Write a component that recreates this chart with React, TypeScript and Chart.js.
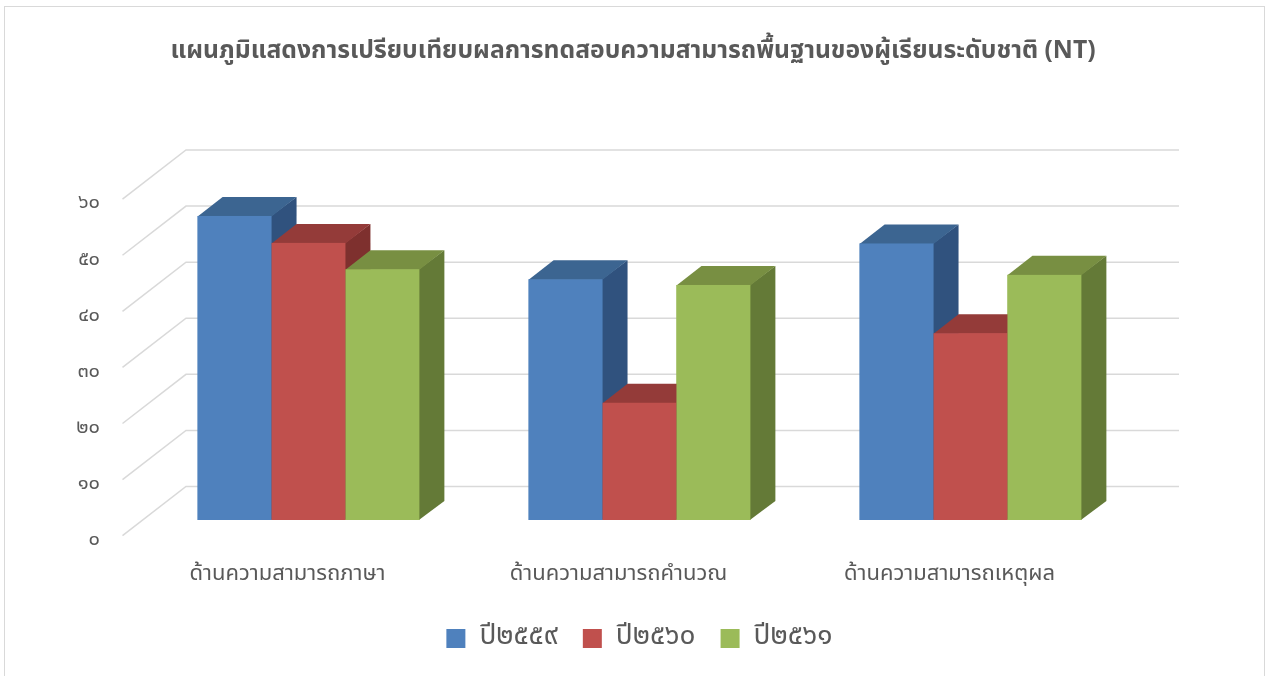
import React, { useEffect, useRef } from 'react';
import { Chart, registerables } from 'chart.js';
Chart.register(...registerables);

const titleText = 'แผนภูมิแสดงการเปรียบเทียบผลการทดสอบความสามารถพื้นฐานของผู้เรียนระดับชาติ (NT)';
const categories = ['ด้านความสามารถภาษา', 'ด้านความสามารถคำนวณ', 'ด้านความสามารถเหตุผล'];
const seriesNames = ['ปี๒๕๕๙', 'ปี๒๕๖๐', 'ปี๒๕๖๑'];
const values2559 = [54.2, 42.9, 49.3];
const values2560 = [49.4, 20.9, 33.3];
const values2561 = [44.7, 41.9, 43.7];
const yTickValues = [0, 10, 20, 30, 40, 50, 60];
const yTickLabels = ['๐', '๑๐', '๒๐', '๓๐', '๔๐', '๕๐', '๖๐'];

const FONT = "Tahoma, 'Noto Sans Thai', 'Leelawadee UI', sans-serif";
const TEXT = '#595959';
const frontColors = ['#4F81BD', '#C0504D', '#9BBB59'];
const topColors = ['#3C6591', '#943B39', '#788F42'];
const sideColors = ['#30527E', '#7E302E', '#647A37'];

const BAR_DX = 25, BAR_DY = 19;
const WALL_DX = 43, WALL_DY = 33.5;
const FRONT_DX = -20.5, FRONT_DY = 15.7;

const threeD = {
  id: 'threeD',
  beforeDraw(chart: any) {
    const { ctx } = chart;
    ctx.save();
    ctx.fillStyle = '#FFFFFF';
    ctx.fillRect(0, 0, chart.width, chart.height);
    ctx.strokeStyle = '#D9D9D9';
    ctx.lineWidth = 1;
    ctx.strokeRect(4.5, 6.5, 1260, 700);
    ctx.restore();
  },
  beforeDatasetsDraw(chart: any) {
    const { ctx, chartArea, scales } = chart;
    const y = scales.y;
    ctx.save();
    ctx.strokeStyle = '#D9D9D9';
    ctx.lineWidth = 1.5;
    for (const v of yTickValues) {
      const py = y.getPixelForValue(v);
      ctx.beginPath();
      ctx.moveTo(chartArea.left + FRONT_DX, py + FRONT_DY);
      ctx.lineTo(chartArea.left + WALL_DX, py - WALL_DY);
      ctx.lineTo(chartArea.right + WALL_DX, py - WALL_DY);
      ctx.stroke();
    }
    ctx.restore();
  },
  afterDatasetsDraw(chart: any) {
    const { ctx } = chart;
    const n = chart.data.labels.length;
    const metas = chart.data.datasets.map((_: any, i: number) => chart.getDatasetMeta(i));
    ctx.save();
    for (let c = 0; c < n; c++) {
      for (let d = 0; d < metas.length; d++) {
        const bar = metas[d].data[c];
        const { x, y, width, base } = bar.getProps(['x', 'y', 'width', 'base'], true);
        const l = x - width / 2;
        const r = x + width / 2;
        ctx.fillStyle = sideColors[d];
        ctx.beginPath();
        ctx.moveTo(r - 0.5, y);
        ctx.lineTo(r + BAR_DX, y - BAR_DY);
        ctx.lineTo(r + BAR_DX, base - BAR_DY);
        ctx.lineTo(r - 0.5, base);
        ctx.closePath();
        ctx.fill();
        ctx.fillStyle = topColors[d];
        ctx.beginPath();
        ctx.moveTo(l, y + 0.5);
        ctx.lineTo(l + BAR_DX, y - BAR_DY);
        ctx.lineTo(r + BAR_DX, y - BAR_DY);
        ctx.lineTo(r, y + 0.5);
        ctx.closePath();
        ctx.fill();
        ctx.fillStyle = frontColors[d];
        ctx.fillRect(l, y, width, base - y);
      }
    }
    ctx.restore();
  },
};

export default function App() {
  const ref = useRef<HTMLCanvasElement | null>(null);
  useEffect(() => {
    if (!ref.current) return;
    Chart.defaults.font.family = FONT;
    const chart = new Chart(ref.current, {
      type: 'bar',
      data: {
        labels: categories,
        datasets: [
          { label: seriesNames[0], data: values2559, backgroundColor: frontColors[0], borderWidth: 0 },
          { label: seriesNames[1], data: values2560, backgroundColor: frontColors[1], borderWidth: 0 },
          { label: seriesNames[2], data: values2561, backgroundColor: frontColors[2], borderWidth: 0 },
        ],
      },
      options: {
        animation: false,
        responsive: false,
        maintainAspectRatio: false,
        devicePixelRatio: 1,
        layout: { padding: { left: 0, right: 0, top: 0, bottom: 13.5 } },
        datasets: { bar: { categoryPercentage: 0.67, barPercentage: 1 } },
        plugins: {
          title: {
            display: true,
            text: titleText,
            color: TEXT,
            font: { size: 24.7, weight: 'bold', family: FONT },
            padding: { top: 38, bottom: 115.8 },
          },
          legend: {
            position: 'bottom',
            fullSize: false,
            labels: {
              boxWidth: 19,
              boxHeight: 19,
              padding: 25,
              color: TEXT,
              font: { size: 28, family: FONT },
            },
          },
          tooltip: { enabled: false },
        },
        scales: {
          x: {
            grid: { display: false, drawTicks: false },
            border: { display: false },
            ticks: { color: TEXT, font: { size: 22, family: FONT }, labelOffset: -21, padding: 42 },
            afterFit: (s: any) => { s.height = 79.5; },
          },
          y: {
            min: 0,
            max: 60,
            grid: { display: false, drawTicks: false },
            border: { display: false },
            afterBuildTicks: (s: any) => { s.ticks = yTickValues.map((v) => ({ value: v })); },
            ticks: {
              color: TEXT,
              font: { size: 20, family: FONT },
              labelOffset: 21,
              padding: 43,
              callback: (_v: any, i: number) => yTickLabels[i],
            },
            afterFit: (s: any) => { s.width = 143; },
          },
          yRight: {
            position: 'right',
            display: true,
            min: 0,
            max: 60,
            grid: { display: false, drawTicks: false },
            border: { display: false },
            ticks: { display: false },
            afterFit: (s: any) => { s.width = 130; },
          },
        },
      },
      plugins: [threeD],
    });
    return () => chart.destroy();
  }, []);
  return (
    <div style={{ position: 'fixed', left: 0, top: 0, width: 1266, height: 676 }}>
      <canvas ref={ref} width={1266} height={676} style={{ display: 'block' }} />
    </div>
  );
}
